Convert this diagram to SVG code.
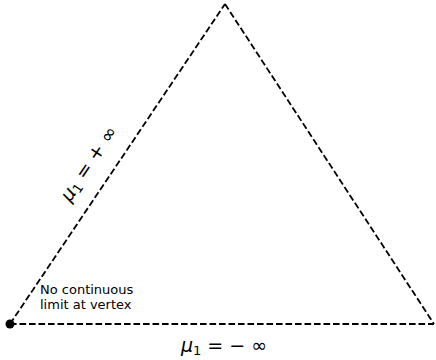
<svg xmlns="http://www.w3.org/2000/svg" width="436" height="360" viewBox="0 0 436 360">
<style>
.edge{fill:none;stroke:#000;stroke-width:1.8;stroke-dasharray:6.6,2.9}
.lbl{font-family:"DejaVu Sans",sans-serif;fill:#000}
</style>
<rect width="436" height="360" fill="#fff"/>
<g id="connectors">
<path class="edge" d="M10,324 L225,4"/>
<path class="edge" d="M225,4 L434,324"/>
<path class="edge" d="M10,324 L434,324"/>
</g>
<g id="vertex">
<circle cx="10" cy="324" r="4.5" fill="#000"/>
<text class="lbl" x="40" y="294" font-size="13">No continuous</text>
<text class="lbl" x="40" y="309" font-size="13">limit at vertex</text>
</g>
<g id="label-left">
<text class="lbl" font-size="19" text-anchor="middle" transform="translate(94,167) rotate(-56)"><tspan font-style="italic">μ</tspan><tspan font-size="13" dy="3">1</tspan><tspan dy="-3"> = + ∞</tspan></text>
</g>
<g id="label-bottom">
<text class="lbl" x="224" y="352" font-size="19" text-anchor="middle"><tspan font-style="italic">μ</tspan><tspan font-size="13" dy="3">1</tspan><tspan dy="-3"> = − ∞</tspan></text>
</g>
</svg>
